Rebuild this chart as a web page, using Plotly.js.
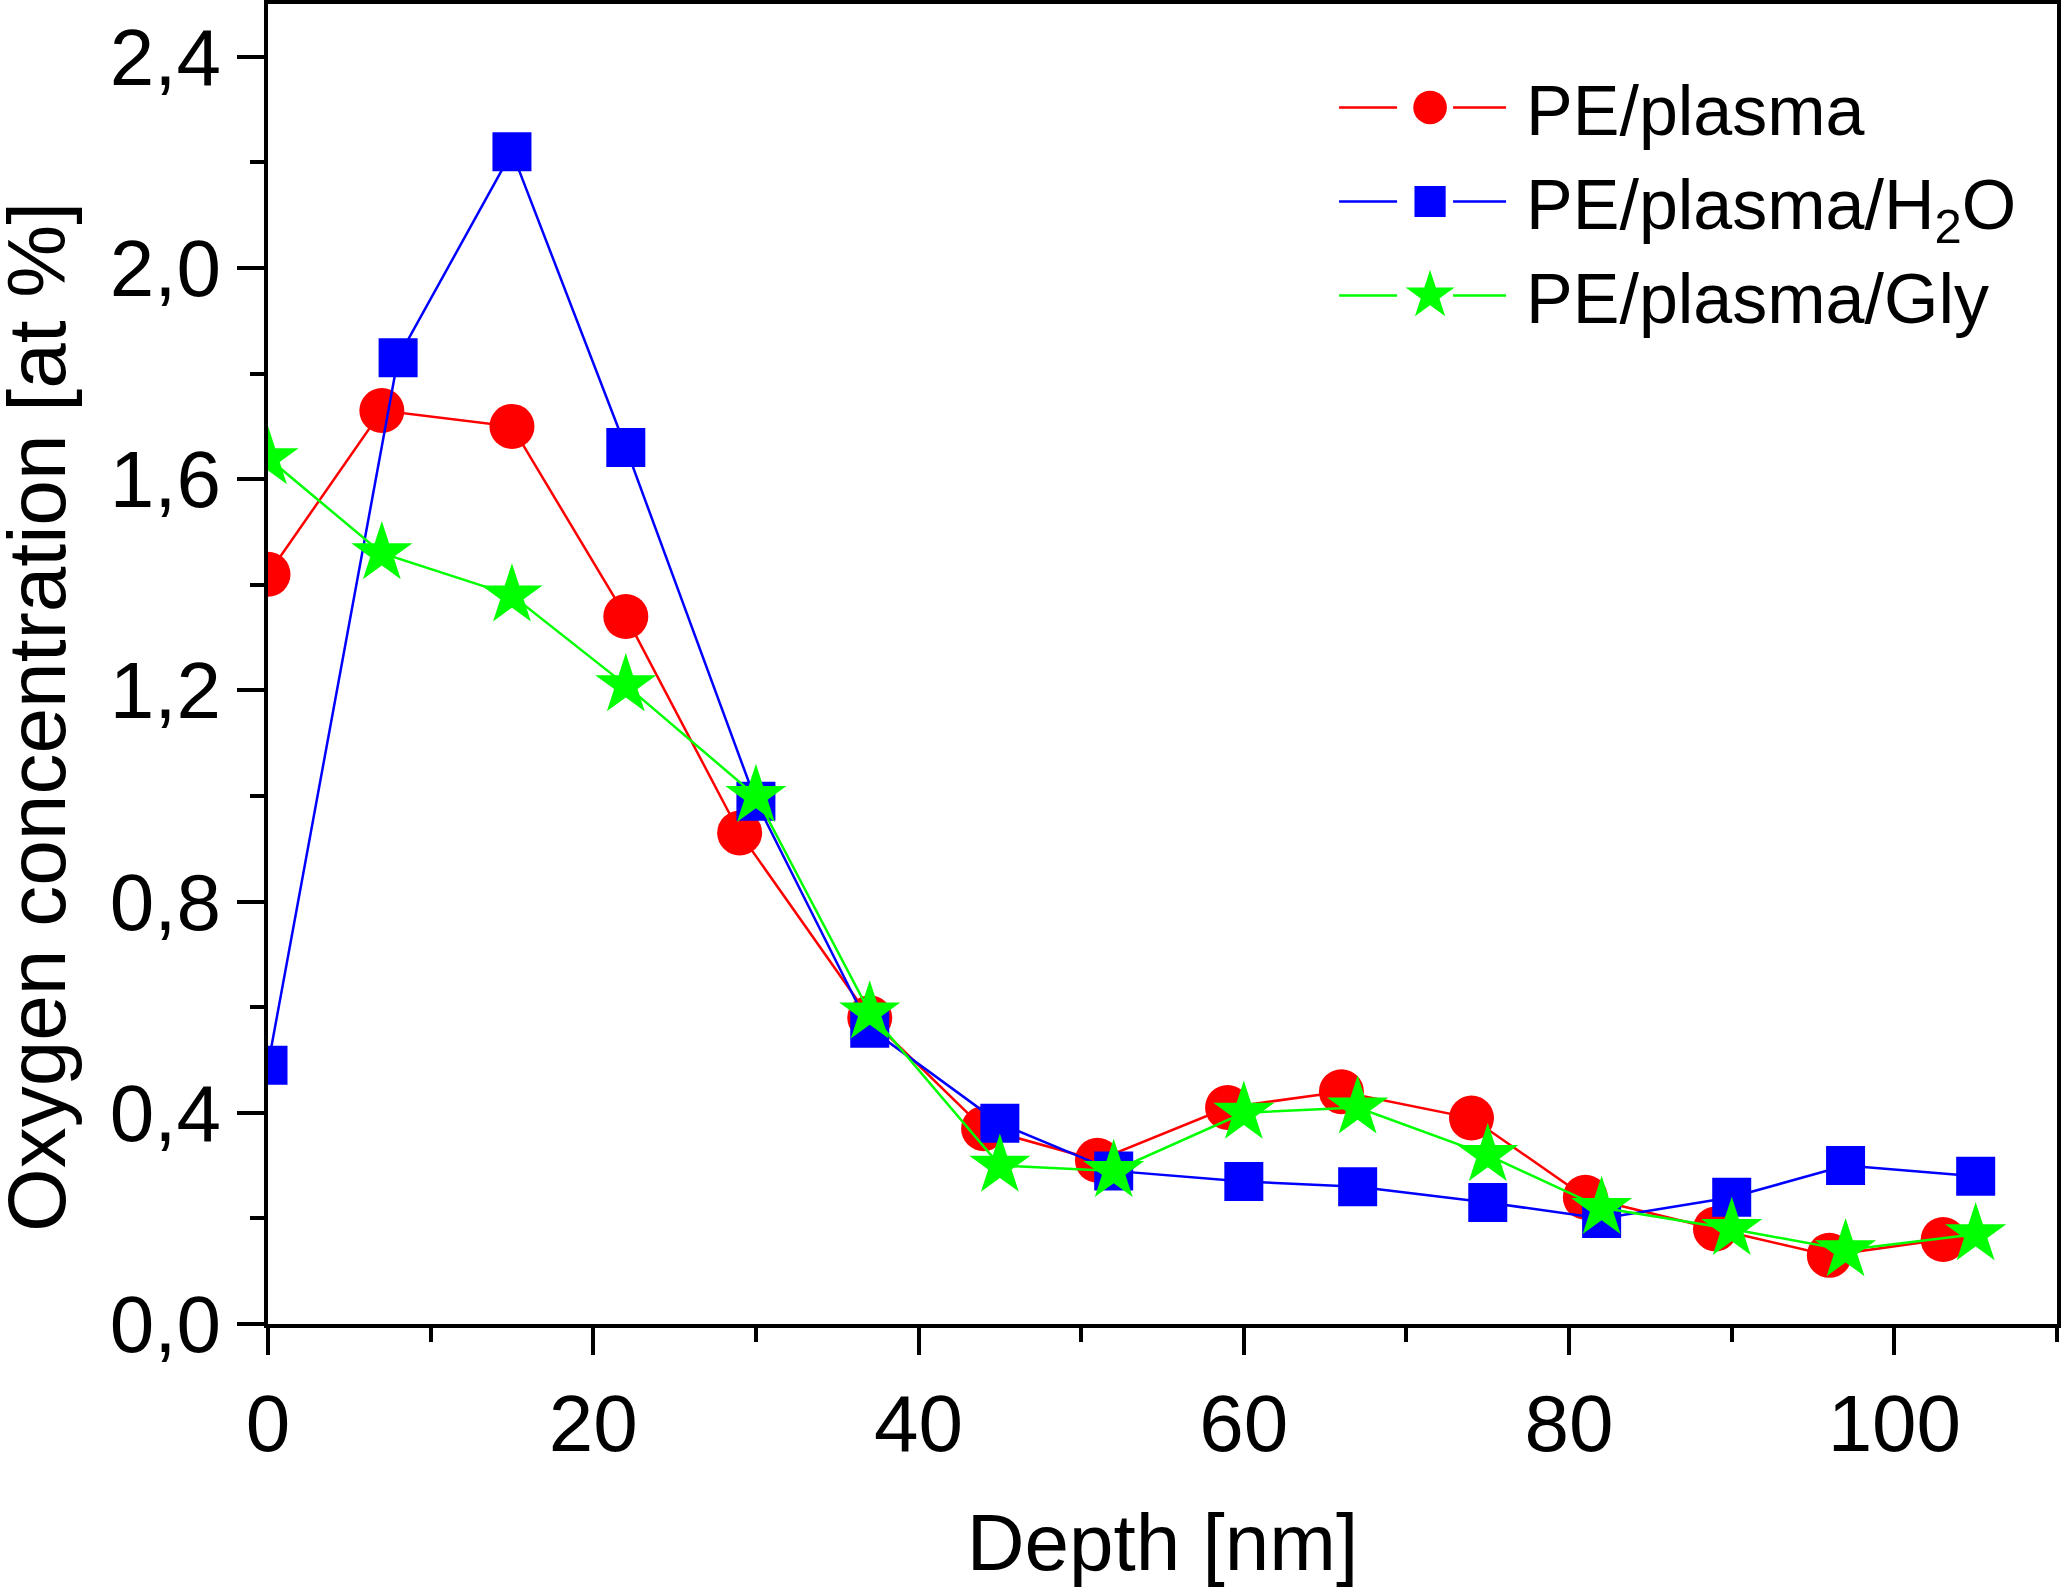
<!DOCTYPE html>
<html>
<head>
<meta charset="utf-8">
<script src="https://cdn.plot.ly/plotly-3.0.1.min.js"></script>
<style>html,body{margin:0;padding:0;background:#fff;}#chart{width:2062px;height:1587px;}</style>
</head>
<body>
<div id="chart"></div>
<script>
var seriesNames = ["PE/plasma", "PE/plasma/H<sub>2</sub>O", "PE/plasma/Gly"];

var depthPlasma = [0, 7, 15, 22, 29, 37, 44, 51, 59, 66, 74, 81, 89, 96, 103];
var oxygenPlasma = [1.42, 1.73, 1.70, 1.34, 0.93, 0.58, 0.37, 0.31, 0.41, 0.44, 0.39, 0.24, 0.18, 0.13, 0.16];

var depthH2O = [0, 8, 15, 22, 30, 37, 45, 52, 60, 67, 75, 82, 90, 97, 105];
var oxygenH2O = [0.49, 1.83, 2.22, 1.66, 0.99, 0.56, 0.38, 0.29, 0.27, 0.26, 0.23, 0.20, 0.24, 0.30, 0.28];

var depthGly = [0, 7, 15, 22, 30, 37, 45, 52, 60, 67, 75, 82, 90, 97, 105];
var oxygenGly = [1.64, 1.46, 1.38, 1.21, 1.00, 0.59, 0.30, 0.29, 0.40, 0.41, 0.32, 0.22, 0.18, 0.14, 0.17];

var FONT = "Liberation Sans, Arial, sans-serif";

var traces = [
  {x: depthPlasma, y: oxygenPlasma, name: seriesNames[0], mode: "lines+markers",
   line: {color: "#ff0000", width: 2.5},
   marker: {symbol: "circle", size: 45, color: "#ff0000"}},
  {x: depthH2O, y: oxygenH2O, name: seriesNames[1], mode: "lines+markers",
   line: {color: "#0000ff", width: 2.5},
   marker: {symbol: "square", size: 39, color: "#0000ff"}},
  {x: depthGly, y: oxygenGly, name: seriesNames[2], mode: "lines+markers",
   line: {color: "#00ff00", width: 2.5},
   marker: {symbol: "star", size: 46, color: "#00ff00"}}
];

// legend symbol scale factors (Plotly caps legend marker size at 16px)
var legendMarkerScale = [2.1, 1.95, 2.3];

var axisCommon = {
  showgrid: false, zeroline: false,
  showline: true, linecolor: "#000", linewidth: 4, mirror: true,
  ticks: "outside", ticklen: 27, tickwidth: 4, tickcolor: "#000",
  tickfont: {family: FONT, size: 80, color: "#000"}
};

var layout = {
  width: 2062, height: 1587,
  margin: {l: 268, r: 5, t: 4, b: 263},
  paper_bgcolor: "#fff", plot_bgcolor: "#fff",
  separators: ",.",
  font: {family: FONT, color: "#000"},
  showlegend: true,
  legend: {
    x: 0.5959, y: 0.961, xanchor: "left", yanchor: "top",
    bgcolor: "rgba(0,0,0,0)", borderwidth: 0,
    font: {family: FONT, size: 70, color: "#000"},
    itemwidth: 182, tracegroupgap: 0
  },
  xaxis: Object.assign({}, axisCommon, {
    range: [0, 110], tick0: 0, dtick: 20,
    minor: {dtick: 10, ticks: "outside", ticklen: 14, tickwidth: 4, tickcolor: "#000"},
    title: {text: "Depth [nm]", font: {family: FONT, size: 80, color: "#000"}, standoff: 49}
  }),
  yaxis: Object.assign({}, axisCommon, {
    range: [0, 2.5], tick0: 0, dtick: 0.4, tickformat: ".1f",
    minor: {dtick: 0.2, ticks: "outside", ticklen: 14, tickwidth: 4, tickcolor: "#000"}
  }),
  annotations: [{
    text: "Oxygen concentration [at %]", textangle: -90,
    xref: "paper", yref: "paper", x: -0.1295, y: 0.46,
    xanchor: "center", yanchor: "middle", showarrow: false,
    font: {family: FONT, size: 82, color: "#000"}
  }]
};

function styleLegend(gd) {
  var items = gd.querySelectorAll(".legend .traces");
  items.forEach(function (tr, i) {
    tr.querySelectorAll(".legendpoints path").forEach(function (p) {
      if (p.getAttribute("data-scaled")) return;
      var t = p.getAttribute("transform") || "";
      p.setAttribute("transform", t + " scale(" + legendMarkerScale[i] + ")");
      p.setAttribute("data-scaled", "1");
    });
    tr.querySelectorAll(".legendlines path").forEach(function (p) {
      p.setAttribute("stroke-dasharray", "58 56 53 300");
      p.style.setProperty("stroke-dasharray", "58px, 56px, 53px, 300px", "important");
    });
  });
}

Plotly.newPlot("chart", traces, layout, {displayModeBar: false, staticPlot: true}).then(function (gd) {
  styleLegend(gd);
  setTimeout(function () { styleLegend(gd); }, 50);
});
</script>
</body>
</html>
